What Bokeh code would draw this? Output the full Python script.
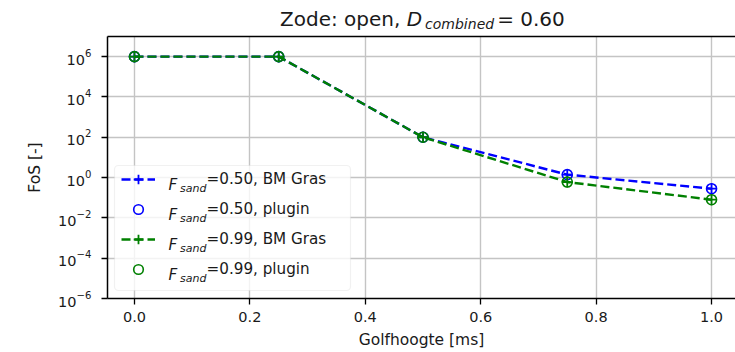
from bokeh.plotting import figure
from bokeh.layouts import column
from bokeh.models import (Range1d, FixedTicker, LinearAxis, Label, Legend,
                          LegendItem, BoxAnnotation, Div)
from bokeh.embed import file_html
from bokeh.resources import INLINE

# ---- data ----
x_vals = [0.0, 0.25, 0.5, 0.75, 1.0]
fos_bm_050 = [1e6, 1e6, 1e2, 1.4, 0.28]
fos_plugin_050 = [1e6, 1e6, 1e2, 1.4, 0.28]
fos_bm_099 = [1e6, 1e6, 1e2, 0.6, 0.08]
fos_plugin_099 = [1e6, 1e6, 1e2, 0.6, 0.08]

x_ticks = [0.0, 0.2, 0.4, 0.6, 0.8, 1.0]
x_tick_labels = ["0.0", "0.2", "0.4", "0.6", "0.8", "1.0"]
y_ticks = [1e-6, 1e-4, 1e-2, 1e0, 1e2, 1e4, 1e6]

legend_fsand = ["0.50", "0.50", "0.99", "0.99"]
legend_source = ["BM Gras", "plugin", "BM Gras", "plugin"]

title_parts = ["Zode: open, ", "D", "combined", "= 0.60"]
x_label = "Golfhoogte [ms]"
y_label = "FoS [-]"

FONT = "DejaVu Sans"
TEXT_COL = "#1a1a1a"
W, H = 735, 352
TH = 33                # height of the title strip
FL, FB = 107, 298      # frame left / bottom in window pixels


def fx(cx):
    return cx - FL


def fy(cy):
    return FB - cy


# ---------------- title strip (HTML, real text) ----------------
title_html = (
    '<div style="font-family:\'DejaVu Sans\'; font-size:20px; line-height:20px; '
    f'color:{TEXT_COL}; white-space:nowrap; margin:0; padding:8.6px 0 0 280px;">'
    f'{title_parts[0]}<i>{title_parts[1]}</i>'
    '<span style="font-size:14px; font-style:italic; vertical-align:-3.5px; '
    f'padding-left:3px;">{title_parts[2]}</span>'
    f'<span style="padding-left:3px;">{title_parts[3]}</span></div>'
)
tdiv = Div(text=title_html, width=W, height=TH, margin=0)

# ---------------- main plot ----------------
p = figure(width=W, height=H - TH, output_backend="svg", toolbar_location=None,
           x_range=Range1d(-0.0467, 1.0415), y_range=Range1d(1e-6, 1e7),
           y_axis_type="log",
           min_border_left=FL, min_border_right=0, min_border_top=36 - TH,
           min_border_bottom=H - FB)
p.outline_line_color = None
p.background_fill_color = "white"
p.border_fill_color = "white"

p.xaxis.ticker = FixedTicker(ticks=x_ticks, minor_ticks=[])
p.xaxis.major_label_overrides = dict(zip(x_ticks, x_tick_labels))
p.yaxis.ticker = FixedTicker(ticks=y_ticks, minor_ticks=[])
p.xgrid.ticker = FixedTicker(ticks=x_ticks, minor_ticks=[])
p.ygrid.ticker = FixedTicker(ticks=y_ticks, minor_ticks=[])
for ax in (p.xaxis, p.yaxis):
    ax.axis_line_color = "black"
    ax.axis_line_width = 1.5
    ax.major_tick_line_color = "black"
    ax.major_tick_line_width = 1.3
    ax.major_tick_out = 6
    ax.major_tick_in = 0
    ax.minor_tick_out = 0
    ax.minor_tick_in = 0
    ax.major_label_text_font = FONT
    ax.major_label_text_font_size = "14.5px"
    ax.major_label_text_color = TEXT_COL
    ax.axis_label_text_font = FONT
    ax.axis_label_text_font_size = "15.5px"
    ax.axis_label_text_font_style = "normal"
    ax.axis_label_text_color = TEXT_COL
p.xaxis.axis_label = x_label
p.yaxis.axis_label = y_label
p.xaxis.major_label_standoff = 7
p.xaxis.axis_label_standoff = 6
p.yaxis.major_label_standoff = 10
p.yaxis.axis_label_standoff = 11

top_axis = LinearAxis(ticker=FixedTicker(ticks=[]), major_tick_out=0, major_tick_in=0,
                      minor_tick_out=0, minor_tick_in=0, major_label_standoff=0,
                      major_label_text_font_size="0px",
                      axis_line_color="black", axis_line_width=1.5)
p.add_layout(top_axis, "above")

for g in (p.xgrid, p.ygrid):
    g.grid_line_color = "#c4c4c4"
    g.grid_line_width = 1.4

series = [
    (fos_bm_050, fos_plugin_050, "blue"),
    (fos_bm_099, fos_plugin_099, "green"),
]
items = []
for (bm, plug, col), i in zip(series, (0, 2)):
    lr = p.line(x_vals, bm, line_color=col, line_dash="9 4", line_width=2.4)
    cr = p.scatter(x_vals, bm, marker="cross", size=11, line_color=col, line_width=1.8)
    pr = p.scatter(x_vals, plug, marker="circle", size=10, fill_color=None,
                   line_color=col, line_width=1.6)
    items.append(LegendItem(label=f"={legend_fsand[i]}, {legend_source[i]}",
                            renderers=[lr, cr]))
    items.append(LegendItem(label=f"={legend_fsand[i + 1]}, {legend_source[i + 1]}",
                            renderers=[pr]))

# legend frame
box = BoxAnnotation(left=fx(114), right=fx(350), top=fy(165), bottom=fy(290),
                    left_units="screen", right_units="screen",
                    top_units="screen", bottom_units="screen",
                    fill_color="white", fill_alpha=0.8,
                    line_color="#d0d0d0", line_width=1.2, border_radius=4)
p.add_layout(box)

LEG_TOP = 167.4
ITEM_H, GAP = 24, 6
leg_h = 4 * ITEM_H + 3 * GAP
legend = Legend(items=items, location=(fx(120.5), fy(LEG_TOP + leg_h)),
                padding=0, margin=0, spacing=GAP, glyph_height=ITEM_H, glyph_width=34,
                label_height=ITEM_H, label_standoff=52, label_text_font=FONT,
                label_text_font_size="15.2px", label_text_color=TEXT_COL,
                label_text_baseline="alphabetic",
                border_line_alpha=0, background_fill_alpha=0)
p.add_layout(legend)

for k in range(4):
    centre = LEG_TOP + ITEM_H / 2 + (ITEM_H + GAP) * k
    base = centre + 5
    p.add_layout(Label(x=fx(168), y=fy(base), x_units="screen", y_units="screen",
                       text="F", text_font=FONT, text_font_size="15.2px",
                       text_font_style="italic", text_color=TEXT_COL,
                       text_baseline="alphabetic", text_align="left"))
    p.add_layout(Label(x=fx(179.5), y=fy(base + 3.5), x_units="screen", y_units="screen",
                       text="sand", text_font=FONT, text_font_size="11px",
                       text_font_style="italic", text_color=TEXT_COL,
                       text_baseline="alphabetic", text_align="left"))

open("out.html", "w").write(file_html(column(tdiv, p, spacing=0), INLINE))
